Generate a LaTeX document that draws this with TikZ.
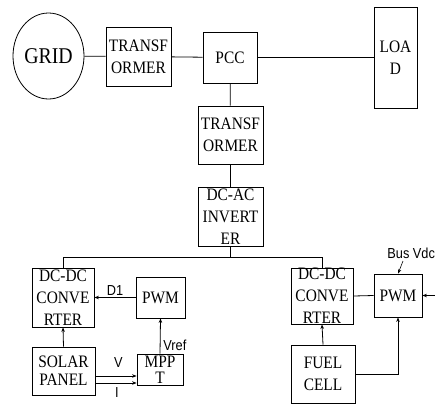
\documentclass[tikz,border=0pt]{standalone}
\usepackage{fontspec}
\setmainfont{Liberation Serif}
\newfontfamily\boxfont[FakeStretch=0.88]{Liberation Serif}
\newfontfamily\labfont[FakeStretch=0.88]{Liberation Sans}
\usetikzlibrary{shapes.geometric,arrows.meta}
\begin{document}
\begin{tikzpicture}[x=1pt,y=-1pt,line width=0.8pt,
  box/.style={draw,rectangle,inner sep=0pt},
  txt/.style={inner sep=0pt,align=center,font=\boxfont\fontsize{17.5}{22}\selectfont},
  txtS/.style={txt,font=\boxfont\fontsize{17.5}{18}\selectfont},
  txtT/.style={txt,font=\boxfont\fontsize{17.5}{16.5}\selectfont},
  arr/.style={-{Stealth[length=4.5pt,width=3.5pt]}},
  lab/.style={inner sep=0pt,font=\labfont\fontsize{14.5}{16}\selectfont}]
\useasboundingbox (0,0) rectangle (435,405);
\clip (0,0) rectangle (435,405);
% top row
\node[draw,ellipse,inner sep=0pt,minimum width=71pt,minimum height=86pt,font=\boxfont\fontsize{22.5}{24}\selectfont] (grid) at (48.5,56) {GRID};
\node[box,minimum width=65pt,minimum height=59pt,label={[txt]center:TRANSF\\ORMER}] (tr1) at (138.5,56.5) {};
\node[box,minimum width=54pt,minimum height=51pt,label={[txt]center:PCC}] (pcc) at (230,57.5) {};
\node[box,minimum width=43pt,minimum height=101pt,label={[txt]center:LOA\\D}] (load) at (395.5,57.5) {};
% middle column
\node[box,minimum width=65pt,minimum height=58pt,label={[txt]center:TRANSF\\ORMER}] (tr2) at (230.5,135) {};
\node[box,minimum width=65pt,minimum height=59pt,label={[txt]center:DC-AC\\INVERT\\ER}] (inv) at (230.5,216.5) {};
% left branch
\node[box,minimum width=62pt,minimum height=59pt,label={[txt]center:DC-DC\\CONVE\\RTER}] (dc1) at (63,297.5) {};
\node[box,minimum width=49pt,minimum height=41pt,label={[txt]center:PWM}] (pwm1) at (160.5,297.5) {};
\node[box,minimum width=63pt,minimum height=48pt,label={[txtS]center:SOLAR\\PANEL}] (solar) at (63.5,371) {};
\node[box,minimum width=46pt,minimum height=31pt,label={[txtT,yshift=-0.5pt]center:MPP\\T}] (mppt) at (160,369.5) {};
% right branch
\node[box,minimum width=62pt,minimum height=56pt,label={[txt]center:DC-DC\\CONVE\\RTER}] (dc2) at (322,296) {};
\node[box,minimum width=48pt,minimum height=43pt,label={[txt]center:PWM}] (pwm2) at (398,295.5) {};
\node[box,minimum width=64pt,minimum height=58pt,label={[txt]center:FUEL\\CELL}] (fuel) at (323,374) {};
% coordinates
\coordinate (bus) at (63,257);
\coordinate (ext) at (436,295.5);
\coordinate (vS) at ([yshift=-5pt]solar.east);
\coordinate (iS) at ([yshift=-12pt]solar.east);
\coordinate (bvs) at (403,261);
% connectors
\draw (grid) -- (tr1);
\draw (tr1) -- (pcc);
\draw (pcc) -- (load);
\draw (pcc) -- (tr2);
\draw (tr2) -- (inv);
\draw (inv.south) -- (inv.south |- bus);
\draw (dc1.north) -- (dc1.north |- bus) -- (dc2.north |- bus) -- (dc2.north);
\draw[arr] (pwm1.west) -- (dc1.east |- pwm1.west);
\draw[arr] (solar.north) -- (dc1.south);
\draw[arr] (mppt.north) -- (pwm1.south);
\draw[arr] (vS) -- (vS -| mppt.west);
\draw[arr] (iS) -- (iS -| mppt.west);
\draw (dc2.east) -- (pwm2.west);
\draw[arr] (ext) -- (pwm2.east);
\draw[arr] (fuel.east) -| (pwm2.south);
\draw[arr] (fuel.north) -- (dc2.south);
\draw[arr,line width=0.6pt] (bvs) -- (pwm2.north);
% labels
\node[lab] (d1) at (115,291) {D1};
\node[lab,anchor=west] (vref) at (163,345.5) {Vref};
\node[lab] (vl) at (118.5,363) {V};
\node[lab] (il) at (117,392) {I};
\node[lab,anchor=west] (busv) at (387,253.5) {Bus Vdc};
\end{tikzpicture}
\end{document}
